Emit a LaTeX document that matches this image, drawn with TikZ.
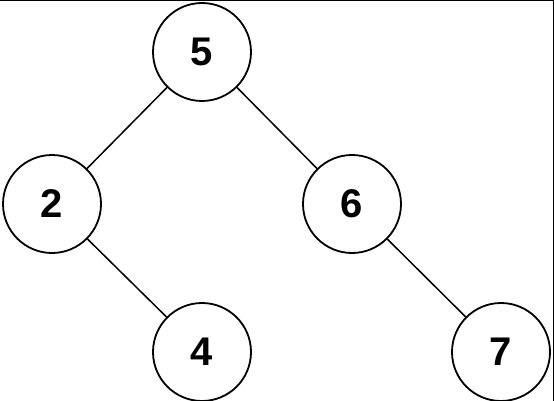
\documentclass[tikz,border=0pt]{standalone}
\usepackage{fontspec}
\setmainfont{Liberation Sans}
\begin{document}
\begin{tikzpicture}[x=1pt,y=-1pt,
  treenode/.style={circle,draw=black,line width=1.8pt,minimum size=98pt,inner sep=0pt,font=\fontsize{40}{40}\selectfont\bfseries},
  edge/.style={draw=black,line width=1.5pt}]
\useasboundingbox (0,0) rectangle (554,401);
\fill[white] (0,0) rectangle (554,401);
\node[treenode] (n5) at (202,52) {5};
\node[treenode] (n2) at (52,204) {2};
\node[treenode] (n6) at (352,204) {6};
\node[treenode] (n4) at (202,352) {4};
\node[treenode] (n7) at (501,352) {7};
\draw[edge] (n5) -- (n2);
\draw[edge] (n5) -- (n6);
\draw[edge] (n2) -- (n4);
\draw[edge] (n6) -- (n7);
\coordinate (tl) at (0,0.6);
\coordinate (tr) at (553.2,0.6);
\coordinate (br) at (553.2,401);
\draw[line width=1.2pt] (tl) -- (tr) -- (br);
\end{tikzpicture}
\end{document}
